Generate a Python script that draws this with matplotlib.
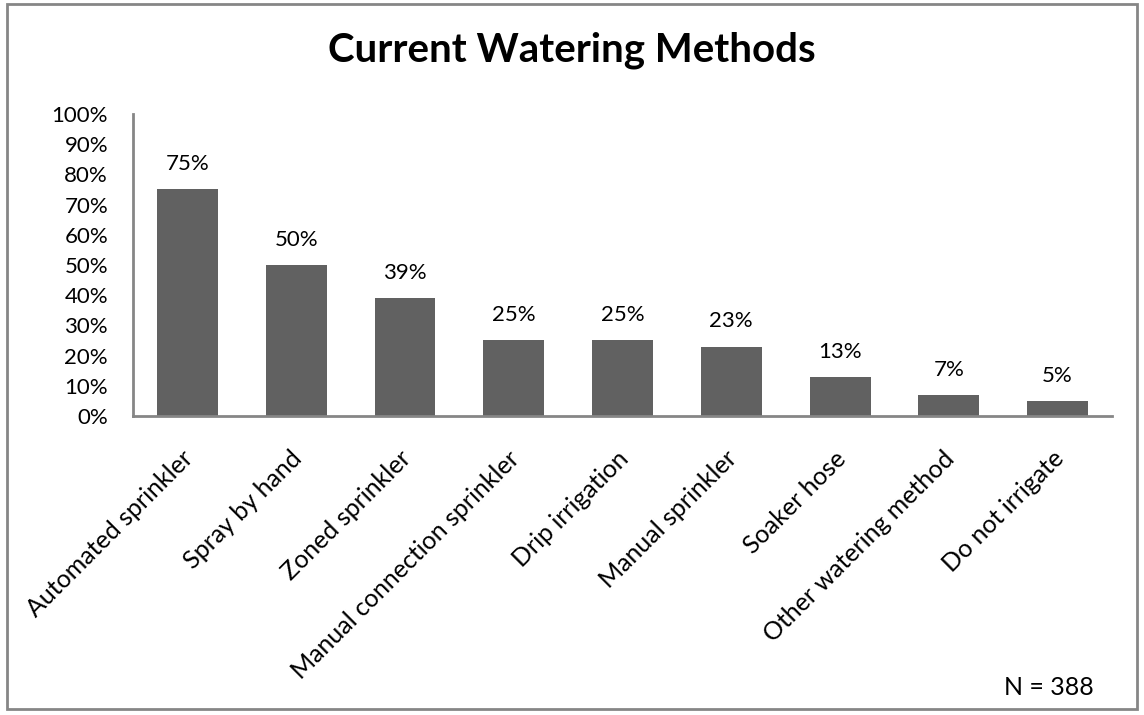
import matplotlib.pyplot as plt
from matplotlib.patches import Rectangle
from matplotlib.ticker import PercentFormatter
from matplotlib.transforms import ScaledTranslation

categories = ["Automated sprinkler", "Spray by hand", "Zoned sprinkler",
              "Manual connection sprinkler", "Drip irrigation", "Manual sprinkler",
              "Soaker hose", "Other watering method", "Do not irrigate"]
values = [75, 50, 39, 25, 25, 23, 13, 7, 5]

plt.rcParams['font.family'] = ['Lato', 'DejaVu Sans']

fig = plt.figure(figsize=(11.44, 7.15), dpi=100)
ax = fig.add_axes([0.1163, 0.4182, 0.8557, 0.4224])

x = range(len(categories))
bars = ax.bar(x, values, width=0.56, color='#616161')
for b, v in zip(bars, values):
    ax.text(b.get_x() + b.get_width() / 2, v + 5, f"{v}%", ha='center', va='bottom', fontsize=16)

ax.set_xlim(-0.5, len(categories) - 0.5)
ax.set_ylim(0, 100)
ax.set_yticks(range(0, 101, 10))
ax.yaxis.set_major_formatter(PercentFormatter(decimals=0))
ax.set_xticks(list(x))
ax.set_xticklabels(categories, rotation=45, ha='right', rotation_mode='anchor', fontsize=18)
ax.tick_params(axis='both', length=0)
ax.tick_params(axis='y', labelsize=16, pad=18)
ax.tick_params(axis='x', pad=22)

# nudge rotated labels slightly left
shift = ScaledTranslation(-6 / 100, 0, fig.dpi_scale_trans)
for lbl in ax.get_xticklabels():
    lbl.set_transform(lbl.get_transform() + shift)

for s in ['top', 'right']:
    ax.spines[s].set_visible(False)
for s in ['left', 'bottom']:
    ax.spines[s].set_color('#868686')
    ax.spines[s].set_linewidth(2)

fig.text(0.5, 0.93, "Current Watering Methods", ha='center', va='center',
         fontsize=29, fontweight='bold')
fig.text(0.917, 0.038, "N = 388", ha='center', va='center', fontsize=18)

fig.patches.append(Rectangle((0.006, 0.008), 0.988, 0.987, transform=fig.transFigure,
                             fill=False, edgecolor='#868686', linewidth=2))

fig.savefig("out.png", dpi=100)
